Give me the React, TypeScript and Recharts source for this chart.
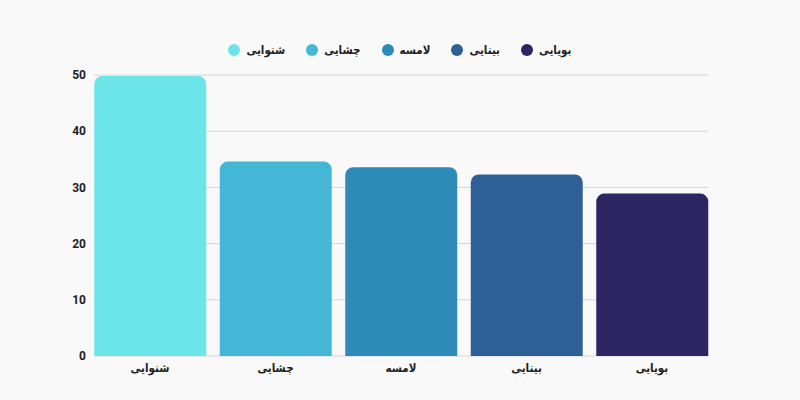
import { BarChart, Bar, XAxis, YAxis, CartesianGrid, Legend, Cell } from 'recharts'

const categories = ['شنوایی', 'چشایی', 'لامسه', 'بینایی', 'بویایی']
const values = [49.8, 34.6, 33.6, 32.3, 28.9]
const colors = ['#6be5e8', '#43b7d5', '#2d8bb8', '#2e6098', '#2d2464']
const yTicks = [0, 10, 20, 30, 40, 50]

const font = 'Roboto, "DejaVu Sans", sans-serif'
const faFont = '"DejaVu Sans Condensed", "DejaVu Sans", sans-serif'

function LegendContent() {
  return (
    <div style={{ height: 55, boxSizing: 'border-box', paddingTop: 20, display: 'flex', justifyContent: 'center', gap: 21, fontFamily: faFont }}>
      {categories.map((c, i) => (
        <div key={c} style={{ display: 'flex', alignItems: 'center', height: 20, gap: 6 }}>
          <span style={{ width: 12, height: 12, borderRadius: 6, background: colors[i], display: 'inline-block' }} />
          <span style={{ fontSize: 11.5, fontWeight: 700, color: '#222' }}>{c}</span>
        </div>
      ))}
    </div>
  )
}

export default function App() {
  const data = categories.map((name, i) => ({ name, value: values[i] }))
  return (
    <div style={{ width: 800, height: 400, background: '#f9f9f9' }}>
      <style>{'body{margin:0}'}</style>
      <BarChart width={800} height={400} data={data} margin={{ top: 20, right: 92, left: 0, bottom: 14 }}>
        <CartesianGrid vertical={false} stroke="#d6d6d6" />
        <XAxis
          dataKey="name"
          axisLine={false}
          tickLine={false}
          height={30}
          padding={{ left: -6.75, right: -6.75 }}
          tick={{ fill: '#222', fontSize: 11.5, fontWeight: 700, fontFamily: faFont }}
        />
        <YAxis
          domain={[0, 50]}
          ticks={yTicks}
          width={94}
          axisLine={false}
          tickLine={false}
          tick={{ fill: '#222', fontSize: 12, fontWeight: 700, fontFamily: font }}
        />
        <Legend
          verticalAlign="top"
          align="center"
          wrapperStyle={{ left: 0, width: 800 }}
          content={<LegendContent />}
        />
        <Bar dataKey="value" barSize={112} radius={[8, 8, 0, 0]} isAnimationActive={false}>
          {data.map((d, i) => (
            <Cell key={d.name} fill={colors[i]} />
          ))}
        </Bar>
      </BarChart>
    </div>
  )
}
